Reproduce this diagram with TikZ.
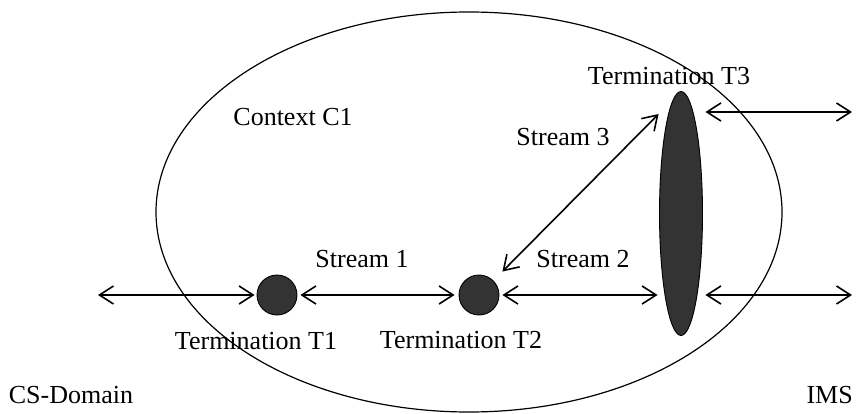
\documentclass[tikz,border=0pt]{standalone}
\usepackage{fontspec}
\setmainfont{Liberation Serif}
\usetikzlibrary{arrows.meta,shapes.geometric}
\definecolor{termgray}{HTML}{333333}
\begin{document}
\begin{tikzpicture}[x=1pt,y=-1pt,
  lbl/.style={font=\fontsize{26}{30}\selectfont, anchor=base, inner sep=0pt},
  term/.style={circle, draw=black, line width=0.9pt, fill=termgray, minimum size=40pt, inner sep=0pt},
  link/.style={line width=1.6pt, {Straight Barb[length=14pt,width=18pt]}-{Straight Barb[length=14pt,width=18pt]}},
]
\useasboundingbox (0,0) rectangle (856,414);
% context ellipse
\node[ellipse, draw=black, line width=1.2pt, minimum width=626pt, minimum height=400pt, inner sep=0pt] (ctx) at (469,212) {};
% terminations
\node[term] (T1) at (277,295) {};
\node[term] (T2) at (479,295) {};
\node[ellipse, draw=black, line width=0.9pt, fill=termgray, minimum width=43pt, minimum height=244pt, inner sep=0pt] (T3) at (681,213.5) {};
% free ends
\coordinate (csl) at (98,295);
\coordinate (imsA) at (852,112);
\coordinate (imsB) at (852,295);
% connectors
\draw[link, shorten >=2pt] (csl) -- (T1);
\draw[link, shorten <=3pt, shorten >=4pt] (T1) -- (T2);
\draw[link, shorten <=3pt, shorten >=1.5pt] (T2) -- (T2 -| T3.west);
\draw[link, shorten <=12.7pt, shorten >=20.5pt] (T2.45) -- (T3.94);
\draw[link, shorten <=2.5pt] (T3.east |- imsA) -- (imsA);
\draw[link, shorten <=2.5pt] (T3.east |- imsB) -- (imsB);
% labels
\node[lbl] (lC1) at (293,126) {Context C1};
\node[lbl] (lS3) at (563,146) {Stream 3};
\node[lbl] (lS1) at (362,267) {Stream 1};
\node[lbl] (lS2) at (583,267) {Stream 2};
\node[lbl] (lT1) at (256,349) {Termination T1};
\node[lbl] (lT2) at (461,348) {Termination T2};
\node[lbl] (lT3) at (669,85) {Termination T3};
\node[lbl] (lCS) at (71,403) {CS-Domain};
\node[lbl, anchor=base east] (lIMS) at (853,403) {IMS};
\end{tikzpicture}
\end{document}
